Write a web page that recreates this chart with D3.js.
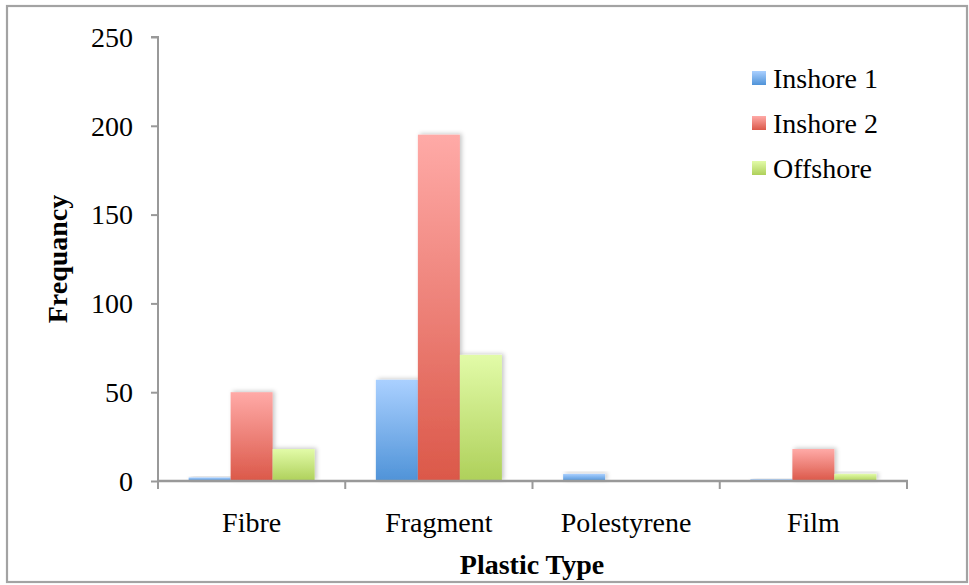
<!DOCTYPE html>
<html>
<head>
<meta charset="utf-8">
<script src="https://cdn.jsdelivr.net/npm/d3@7"></script>
<style>
  html, body { margin: 0; padding: 0; background: #fff; }
  svg { display: block; }
  text { font-family: "Liberation Serif", "DejaVu Serif", serif; fill: #000; }
</style>
</head>
<body>
<svg id="chart" width="969" height="585"></svg>
<script>
// Plastic types found per sampling site
const categories = ["Fibre", "Fragment", "Polestyrene", "Film"];
const seriesNames = ["Inshore 1", "Inshore 2", "Offshore"];
const inshore1 = [2, 57, 4, 1];
const inshore2 = [50, 195, 0, 18];
const offshore = [18, 71, 0, 4];
const yTicks = [0, 50, 100, 150, 200, 250];

const seriesValues = [inshore1, inshore2, offshore];
// top / bottom gradient stops for each series
const seriesColors = [
  ["#aad0ff", "#4f93d8"],
  ["#ffaaa7", "#db5849"],
  ["#e2fba8", "#aed05a"]
];

const svg = d3.select("#chart");
const margin = { left: 158, right: 62, top: 37, bottom: 104 };
const W = 969, H = 585;

// outer frame
svg.append("rect")
  .attr("x", 7).attr("y", 6).attr("width", 960).attr("height", 576)
  .attr("fill", "none").attr("stroke", "#a3a3a3").attr("stroke-width", 2.2);

const defs = svg.append("defs");
seriesColors.forEach((c, i) => {
  const g = defs.append("linearGradient")
    .attr("id", "grad" + i).attr("x1", 0).attr("y1", 0).attr("x2", 0).attr("y2", 1);
  g.append("stop").attr("offset", "0%").attr("stop-color", c[0]);
  g.append("stop").attr("offset", "100%").attr("stop-color", c[1]);
});
const shadow = defs.append("filter").attr("id", "shadow")
  .attr("x", "-30%").attr("y", "-30%").attr("width", "160%").attr("height", "160%");
shadow.append("feDropShadow")
  .attr("dx", 2).attr("dy", -1).attr("stdDeviation", 2.2)
  .attr("flood-color", "#000").attr("flood-opacity", 0.22);

const x0 = d3.scaleBand()
  .domain(categories)
  .range([margin.left, W - margin.right])
  .paddingInner(0.327)
  .paddingOuter(0.1635);
const x1 = d3.scaleBand()
  .domain(seriesNames)
  .range([0, x0.bandwidth()])
  .padding(0);
const y = d3.scaleLinear()
  .domain([0, 250])
  .range([H - margin.bottom, margin.top]);

// bars
const groups = svg.append("g").selectAll("g")
  .data(categories)
  .join("g")
  .attr("transform", d => `translate(${x0(d)},0)`);

groups.selectAll("rect")
  .data((d, ci) => seriesNames.map((s, si) => ({ s, si, v: seriesValues[si][ci] })).filter(e => e.v > 0))
  .join("rect")
  .attr("x", d => x1(d.s))
  .attr("width", x1.bandwidth())
  .attr("y", d => y(d.v))
  .attr("height", d => y(0) - y(d.v))
  .attr("fill", d => `url(#grad${d.si})`)
  .attr("filter", "url(#shadow)");

// y axis
const yAxis = svg.append("g")
  .attr("transform", `translate(${margin.left},0)`)
  .call(d3.axisLeft(y).tickValues(yTicks).tickSize(7).tickPadding(18));
yAxis.select(".domain").attr("stroke", "#999").attr("stroke-width", 2).attr("d", `M-7,${y(250)}H0V${y(0)}`);
yAxis.selectAll(".tick line").attr("stroke", "#999").attr("stroke-width", 2);
yAxis.selectAll(".tick text").style("font-size", "28px").attr("dy", "0.33em");

// x axis with boundary ticks between categories
const xAxis = svg.append("g").attr("transform", `translate(0,${y(0)})`);
xAxis.append("line")
  .attr("x1", margin.left - 1).attr("x2", W - margin.right + 1)
  .attr("stroke", "#999").attr("stroke-width", 2.4);
const step = x0.step();
const boundaries = d3.range(categories.length + 1).map(i => margin.left + i * step);
xAxis.selectAll(".bt").data(boundaries).join("line")
  .attr("class", "bt")
  .attr("x1", d => d).attr("x2", d => d)
  .attr("y1", 0).attr("y2", 8)
  .attr("stroke", "#999").attr("stroke-width", 2);
xAxis.selectAll(".cl").data(categories).join("text")
  .attr("class", "cl")
  .attr("x", d => x0(d) + x0.bandwidth() / 2)
  .attr("y", 51)
  .attr("text-anchor", "middle")
  .style("font-size", "28px")
  .text(d => d);

// axis titles
svg.append("text")
  .attr("transform", `translate(67,${(y(0) + y(250)) / 2}) rotate(-90)`)
  .attr("text-anchor", "middle")
  .style("font-size", "28px").style("font-weight", "bold")
  .text("Frequancy");
svg.append("text")
  .attr("x", 532).attr("y", 574)
  .attr("text-anchor", "middle")
  .style("font-size", "28px").style("font-weight", "bold")
  .text("Plastic Type");

// legend
const legend = svg.append("g").attr("transform", "translate(752,78)");
const li = legend.selectAll("g").data(seriesNames).join("g")
  .attr("transform", (d, i) => `translate(0,${i * 45})`);
li.append("rect")
  .attr("x", 0).attr("y", -7).attr("width", 14).attr("height", 14)
  .attr("fill", (d, i) => `url(#grad${i})`);
li.append("text")
  .attr("x", 21).attr("y", 0).attr("dy", "0.35em")
  .style("font-size", "28px")
  .text(d => d);
</script>
</body>
</html>
